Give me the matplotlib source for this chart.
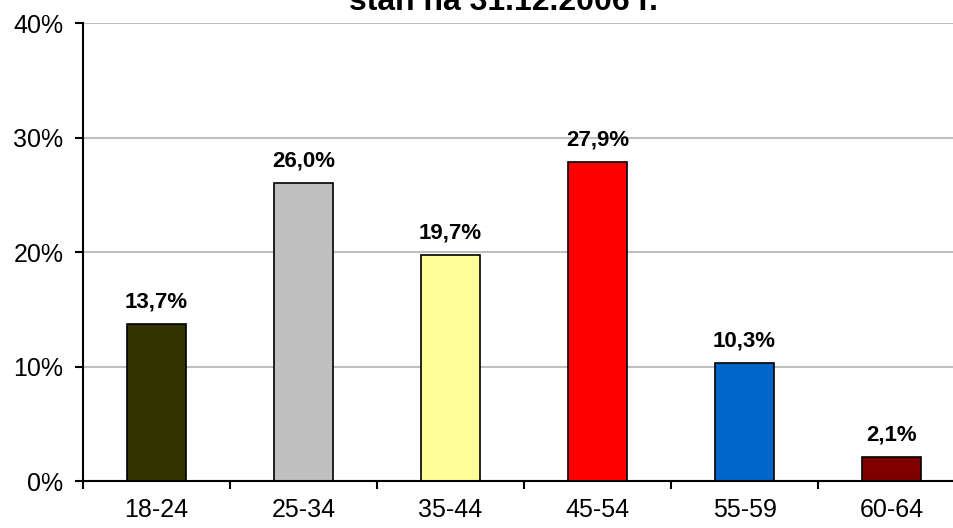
import numpy as np
import matplotlib.pyplot as plt
from matplotlib.ticker import FuncFormatter

plt.rcParams['font.family'] = ['Liberation Sans', 'DejaVu Sans']

groups = ['18-24', '25-34', '35-44', '45-54', '55-59', '60-64']
shares = [13.7, 26.0, 19.7, 27.9, 10.3, 2.1]
colors = ['#333300', '#C0C0C0', '#FFFF99', '#FF0000', '#0066CC', '#800000']

fig = plt.figure(figsize=(9.54, 5.28), dpi=100)
ax = fig.add_axes([0.087, 0.089, 0.9245, 0.8674])

x = np.arange(len(groups))
ax.bar(x, shares, width=0.4, color=colors, edgecolor='black', linewidth=1.2, zorder=3)

for xi, v in zip(x, shares):
    ax.text(xi, v + 1.0, f'{v:.1f}%'.replace('.', ','), ha='center', va='bottom',
            fontsize=16, fontweight='bold')

ax.set_xlim(-0.5, len(groups) - 0.5)
ax.set_ylim(0, 40)
ax.set_yticks([0, 10, 20, 30, 40])
ax.yaxis.set_major_formatter(FuncFormatter(lambda v, p: f'{v:.0f}%'))
ax.yaxis.grid(True, color='#C0C0C0', linewidth=1.5, zorder=0)

# ticks on category boundaries, labels at centres
ax.set_xticks(np.arange(len(groups) + 1) - 0.5)
ax.set_xticklabels([])
ax.set_xticks(x, minor=True)
ax.set_xticklabels(groups, minor=True)
ax.tick_params(axis='x', which='minor', length=0, pad=12, labelsize=18)
ax.tick_params(axis='x', which='major', length=6, width=1.5, direction='out')
ax.tick_params(axis='y', length=6, width=1.5, pad=8, labelsize=18)

for s in ['top', 'right']:
    ax.spines[s].set_visible(False)
for s in ['left', 'bottom']:
    ax.spines[s].set_linewidth(1.5)
    ax.spines[s].set_zorder(4)

fig.text(0.528, 0.981, 'stan na 31.12.2006 r.', ha='center', va='baseline',
         fontsize=23, fontweight='bold')

fig.savefig('out.png', dpi=100)
